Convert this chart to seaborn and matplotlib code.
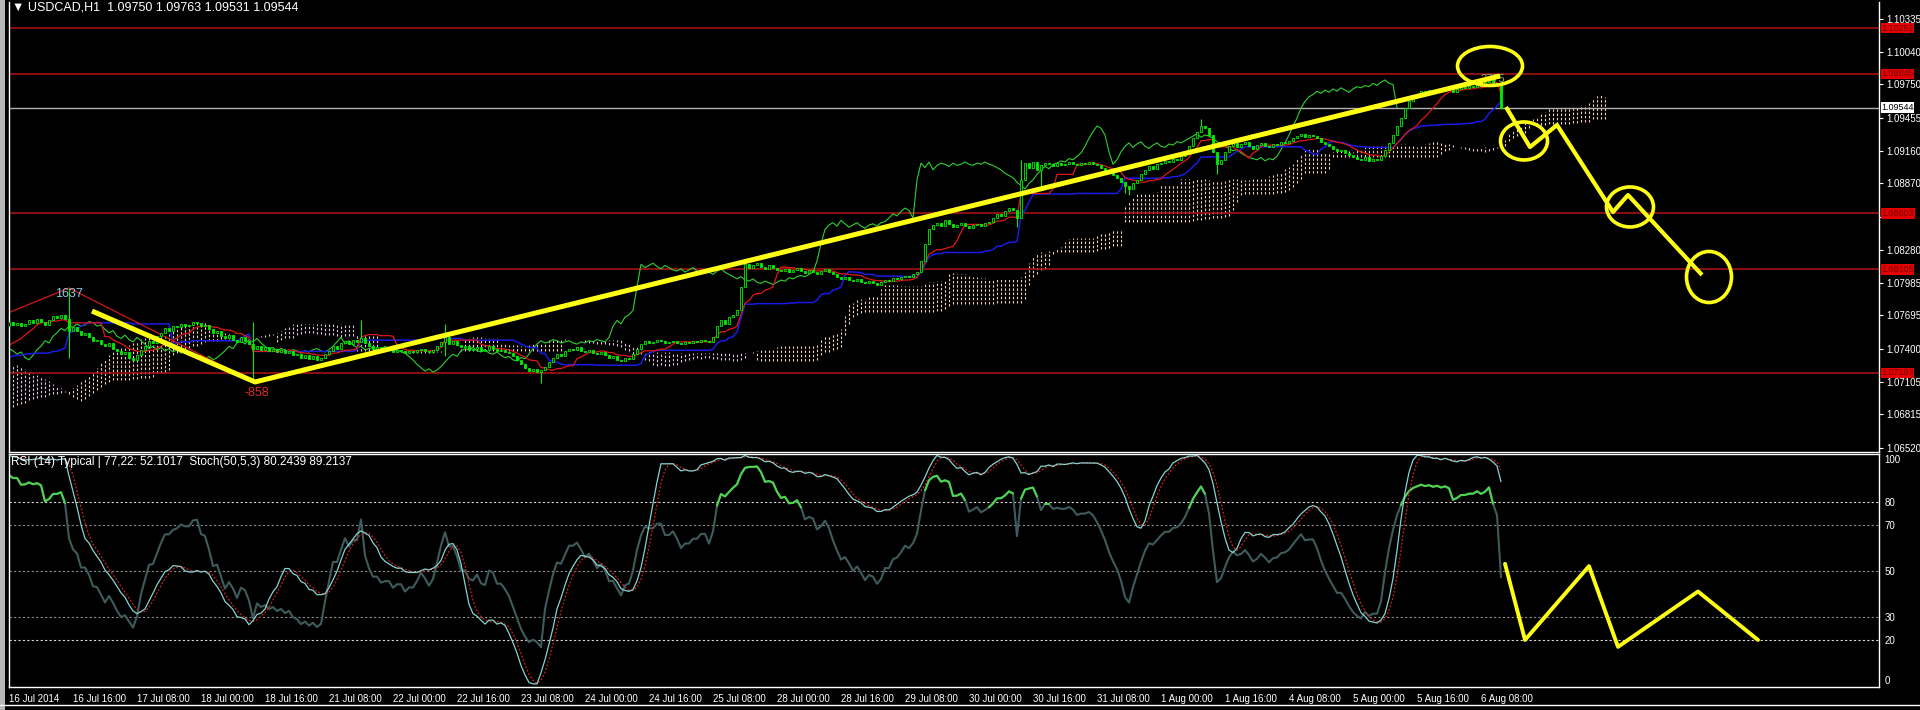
import numpy as np
import pandas as pd
import seaborn as sns
import matplotlib.pyplot as plt
from matplotlib.patches import Ellipse, Rectangle

# USDCAD H1, prices kept in points above 1.07000 (1 point = 0.00001)
BASE = 1.07
PT = 0.00001

# hourly closes before 16 Jul 2014 00:00, they only feed the indicators
history = [820, 860, 900, 870, 830, 790, 760, 720, 700, 650, 610, 560, 520,
           480, 430, 380, 330, 300, 250, 200, 160, 110, 60, 20, -30, -80, -120, -160, -200,
           -230, -260, -300, -280, -320, -350, -390, -360, -330, -300, -320, -280, -250, -210, -180,
           -150, -120, -90, -100, -60, -30, -10, 20, 0, 30, 60, 40, 80, 110, 90, 120, 140, 100,
           70, 90, 60, 80, 110, 130,
           170, 220, 260, 300, 340, 400, 450, 500, 560, 600]

# visible hourly closes, bar 0 = 16 Jul 00:00 ... bar 373 = 6 Aug 13:00
close_pts = [
    640, 610, 630, 600, 620, 650, 630, 660, 640, 610, 650, 690, 670, 700, 660, 560,
    590, 560, 520, 540, 500, 470, 480, 440, 420, 450, 400, 380, 350, 370, 320, 300,
    340, 390, 420, 470, 450, 510, 540, 580, 560, 600, 590, 620, 600, 610, 640, 630,
    600, 610, 570, 540, 560, 510, 490, 520, 480, 460, 500, 470, 440, 400, 420, 390,
    410, 380, 400, 370, 390, 360, 380, 340, 350, 320, 340, 310, 330, 300, 320, 350,
    380, 420, 400, 450, 470, 440, 480, 460, 490, 450, 420, 400, 410, 380, 400, 390,
    370, 390, 380, 360, 380, 370, 390, 400, 380, 370, 390, 420, 460, 500, 440, 470,
    430, 410, 420, 390, 400, 410, 380, 390, 420, 400, 380, 390, 370, 360, 330, 300,
    260, 230, 200, 220, 190, 210, 240, 280, 320, 350, 330, 380, 400, 390, 410, 380,
    370, 390, 360, 350, 370, 340, 320, 330, 300, 290, 320, 310, 350, 400, 440, 470,
    450, 460, 480, 470, 450, 460, 470, 450, 440, 460, 450, 470, 460, 480, 470, 460,
    500, 600, 650, 620, 680, 700, 740, 950, 1150, 1120, 1140, 1160, 1130, 1110, 1140, 1120,
    1100, 1090, 1110, 1080, 1100, 1120, 1090, 1070, 1100, 1080, 1060, 1090, 1110, 1080, 1060, 1040,
    1020, 1040, 1010, 1000, 1020, 990, 980, 1000, 985, 970, 990, 1010, 1000, 1030, 1020, 1040,
    1050, 1040, 1060, 1080, 1180, 1330, 1460, 1500, 1520, 1490, 1540, 1510, 1480, 1500, 1520, 1490,
    1470, 1500, 1510, 1490, 1520, 1530, 1560, 1600, 1580, 1620, 1650, 1630, 1560, 1900, 2050, 2010,
    2060, 1990, 2030, 2050, 2040, 2020, 2050, 2030, 2040, 2060, 2040, 2030, 2050, 2040, 2060, 2040,
    2030, 2010, 1990, 1960, 1940, 1920, 1880, 1850, 1820, 1870, 1900, 1950, 1990, 2020, 2000, 2040,
    2050, 2070, 2060, 2090, 2080, 2110, 2140, 2200, 2270, 2330, 2380, 2360, 2300, 2150, 2040, 2080,
    2150, 2200, 2230, 2190, 2220, 2240, 2200, 2180, 2210, 2230, 2200, 2190, 2220, 2210, 2240, 2230,
    2250, 2270, 2290, 2310, 2280, 2300, 2290, 2270, 2240, 2220, 2200, 2180, 2160, 2170, 2140, 2120,
    2100, 2090, 2080, 2100, 2070, 2090, 2080, 2110, 2170, 2230, 2300, 2380, 2450, 2540, 2600, 2640,
    2660, 2690, 2670, 2700, 2680, 2710, 2690, 2720, 2700, 2680, 2710, 2730, 2720, 2740, 2730, 2760,
    2740, 2770, 2790, 2760, 2750, 2544,
]

# long wicks (bar: points)
spike_high = {15: 939, 61: 640, 88: 650, 109: 620, 253: 2080, 298: 2440, 370: 2816, 373: 2763}
spike_low = {15: 320, 61: 110, 109: 330, 133: 94, 252: 1480, 258: 1840, 279: 1780,
             280: 1770, 302: 1950, 373: 2531}

date_labels = ["16 Jul 2014", "16 Jul 16:00", "17 Jul 08:00", "18 Jul 00:00", "18 Jul 16:00",
               "21 Jul 08:00", "22 Jul 00:00", "22 Jul 16:00", "23 Jul 08:00", "24 Jul 00:00",
               "24 Jul 16:00", "25 Jul 08:00", "28 Jul 00:00", "28 Jul 16:00", "29 Jul 08:00",
               "30 Jul 00:00", "30 Jul 16:00", "31 Jul 08:00", "1 Aug 00:00", "1 Aug 16:00",
               "4 Aug 08:00", "5 Aug 00:00", "5 Aug 16:00", "6 Aug 08:00"]
label_bars = [16 * i for i in range(len(date_labels))]

# 1.08575 sits under the 1.08603 line label, so it gets no text
price_ticks = [1.10335, 1.10040, 1.09750, 1.09455, 1.09160, 1.08870, 1.08575, 1.08280,
               1.07985, 1.07695, 1.07400, 1.07105, 1.06815, 1.06520]
red_levels = [1.10252, 1.09845, 1.08603, 1.08105, 1.07183]
bid = 1.09544

zigzag_bars = [-20, 15, 61, 370]
zigzag_pts = [430, 939, 110, 2816]

# hand drawn yellow marks
trend_bars = [20.75, 61.5, 372.75]
trend_price = [1.07734, 1.07103, 1.09825]
proj_bars = [374.25, 380.25, 387, 401, 404.75, 423.25]
proj_price = [1.09549, 1.09193, 1.09389, 1.08615, 1.08766, 1.08055]
circle_bars = [370.25, 378.75, 405.25, 425]
circle_price = [1.09914, 1.09247, 1.08660, 1.08037]
circle_w = [16.25, 11.75, 11.75, 11.25]
circle_h = [0.00347, 0.00338, 0.00356, 0.00454]
osc_bars = [374, 379, 395, 402.25, 422.25, 437.25]
osc_vals = [53, 20, 52, 17, 41, 20]

# ---- build OHLC + indicators
n_hist = len(history)
bars = np.arange(-n_hist, len(close_pts))
c = BASE + np.array(history + close_pts, float) * PT
o = np.r_[c[0], c[:-1]]
h = np.maximum(o, c)
l = np.minimum(o, c)
for b, v in spike_high.items():
    h[b + n_hist] = BASE + v * PT
for b, v in spike_low.items():
    l[b + n_hist] = BASE + v * PT
df = pd.DataFrame({"bar": bars, "open": o, "high": h, "low": l, "close": c})

df["tenkan"] = (df.high.rolling(9, 1).max() + df.low.rolling(9, 1).min()) / 2
df["kijun"] = (df.high.rolling(26, 1).max() + df.low.rolling(26, 1).min()) / 2
cloud = pd.DataFrame({"bar": bars + 26,
                      "a": (df.tenkan + df.kijun) / 2,
                      "b": (df.high.rolling(52, 1).max() + df.low.rolling(52, 1).min()) / 2})
cloud = cloud[cloud.bar >= 0]
chikou = pd.DataFrame({"bar": bars - 26, "price": c})
chikou = chikou[chikou.bar >= 0]

tp = (df.high + df.low + df.close) / 3
d = tp.diff()
up = d.clip(lower=0).ewm(alpha=1 / 14, adjust=False).mean()
dn = (-d).clip(lower=0).ewm(alpha=1 / 14, adjust=False).mean()
df["rsi"] = 100 - 100 / (1 + up / dn)
ll = df.low.rolling(50, 1).min()
hh = df.high.rolling(50, 1).max()
df["stoch"] = 100 * (df.close - ll).rolling(5, 1).sum() / (hh - ll).rolling(5, 1).sum()
df["signal"] = df.stoch.rolling(3, 1).mean()

vis = df[df.bar >= 0]

# ---- figure
sns.set_theme(style="dark", rc={"axes.facecolor": "black", "figure.facecolor": "black",
                                "axes.edgecolor": "white", "grid.color": "black"})
plt.rcParams["font.family"] = ["Liberation Sans", "DejaVu Sans"]

W, H = 1920, 710
fig = plt.figure(figsize=(19.2, 7.1), dpi=100)
L, R = 9 / W, 1879 / W
ax = fig.add_axes([L, 1 - 452 / H, R - L, 450 / H])
ax2 = fig.add_axes([L, 1 - 687 / H, R - L, 233 / H])

for a in (ax, ax2):
    a.set_facecolor("black")
    a.set_xlim(0, 467.5)
    a.grid(False)
    for s in a.spines.values():
        s.set_color("white")
        s.set_linewidth(1)
ax.spines["top"].set_visible(False)
ax.set_ylim(1.064801, 1.104833)
ax2.set_ylim(-0.4, 100.6)

# cloud: dotted vertical hatching between the two spans
up_mask = cloud.a >= cloud.b
cols = np.where(up_mask, "#F2CDB8", "#DCC4DC")
ax.vlines(cloud.bar, np.minimum(cloud.a, cloud.b), np.maximum(cloud.a, cloud.b),
          colors=cols, linestyles=(0, (2.2, 1.6)), linewidth=0.8, zorder=1)

# horizontal levels
for p in red_levels:
    ax.axhline(p, color="#B41414", lw=1.1, zorder=1.5)
ax.axhline(bid, color="#B0B0B0", lw=1, zorder=1.5)

# ichimoku lines
sns.lineplot(data=chikou, x="bar", y="price", ax=ax, color="#2FD02F", lw=0.8, zorder=2)
sns.lineplot(data=vis, x="bar", y="kijun", ax=ax, color="#1A1AE6", lw=1.1, zorder=2)
sns.lineplot(data=vis, x="bar", y="tenkan", ax=ax, color="#E01818", lw=0.9, zorder=2)

# candles
ax.vlines(vis.bar, vis.low, vis.high, color="#00EE00", lw=0.8, zorder=3)
body_lo = np.minimum(vis.open, vis.close)
body_h = np.maximum(np.abs(vis.close - vis.open), 0.00005)
bull = vis.close >= vis.open
ax.bar(vis.bar, body_h, bottom=body_lo, width=0.72,
       color=np.where(bull, "black", "#00EE00"), edgecolor="#00EE00", linewidth=0.6, zorder=3)

# zigzag
ax.plot(zigzag_bars, BASE + np.array(zigzag_pts) * PT, color="#D01818", lw=0.9, zorder=2.5)
ax.text(15, 1.07885, "1637", color="#8CC8E8", fontsize=9, ha="center", va="center", zorder=4)
ax.text(62, 1.07002, "-858", color="#E02828", fontsize=9, ha="center", va="center", zorder=4)
ax.text(371, 1.09796, "2775", color="#80B880", fontsize=8, ha="center", va="center", zorder=4)

# yellow annotations
ax.plot(trend_bars, trend_price, color="#FFFF14", lw=3.6, solid_capstyle="butt", zorder=6)
ax.plot(proj_bars, proj_price, color="#FFFF14", lw=3.0, solid_capstyle="butt", zorder=6)
for cx, cy, w, hh_ in zip(circle_bars, circle_price, circle_w, circle_h):
    ax.add_patch(Ellipse((cx, cy), w, hh_, fill=False, ec="#FFFF14", lw=2.6, zorder=6))

# price axis
ax.yaxis.tick_right()
ax.set_yticks(price_ticks)
ax.set_yticklabels(["" if p == 1.08575 else f"{p:.5f}" for p in price_ticks])
ax.tick_params(axis="y", colors="white", labelsize=7, length=3, width=0.8, pad=2)
ax.tick_params(axis="x", length=0, labelbottom=False)
ax.set_xlabel("")
ax.set_ylabel("")
ytr = ax.get_yaxis_transform()
for p in red_levels:
    ax.text(1.0012, p, f"{p:.5f}", transform=ytr, ha="left", va="center", fontsize=6.5,
            color="#780000", zorder=7,
            bbox=dict(boxstyle="square,pad=0.08", fc="#E40000", ec="none"))
ax.text(1.0012, bid, f"{bid:.5f}", transform=ytr, ha="left", va="center", fontsize=6.5,
        color="black", zorder=7, bbox=dict(boxstyle="square,pad=0.08", fc="white", ec="none"))

# oscillator panel
for lv, col in [(80, "#D8D8D8"), (70, "#8C8C8C"), (50, "#8C8C8C"), (30, "#8C8C8C"), (20, "#D8D8D8")]:
    ax2.axhline(lv, color=col, lw=0.8, ls=(0, (2, 2)), zorder=1)
sns.lineplot(data=vis, x="bar", y="rsi", ax=ax2, color="#3E5C5C", lw=1.5, zorder=2)
ax2.plot(vis.bar, vis.rsi.where(vis.rsi > 77), color="#4CD44C", lw=1.5, zorder=2.2)
sns.lineplot(data=vis, x="bar", y="signal", ax=ax2, color="#D42020", lw=0.9,
             ls=(0, (1.5, 1.5)), zorder=2.4)
sns.lineplot(data=vis, x="bar", y="stoch", ax=ax2, color="#86D2D2", lw=0.9, zorder=2.6)
ax2.plot(osc_bars, osc_vals, color="#FFFF14", lw=2.8, zorder=6)

ax2.yaxis.tick_right()
ax2.set_yticks([0, 20, 30, 50, 70, 80, 100])
ax2.set_yticklabels(["0", "20", "30", "50", "70", "80", "100"])
ax2.tick_params(axis="y", colors="white", labelsize=7, length=0, pad=4)
tl = ax2.get_yticklabels()
tl[0].set_va("bottom")
tl[-1].set_va("top")
ax2.set_xticks(label_bars)
ax2.set_xticklabels(date_labels, ha="left")
ax2.tick_params(axis="x", colors="white", labelsize=7, length=3, width=0.8, pad=2)
ax2.set_xlabel("")
ax2.set_ylabel("")

# window chrome
fig.text(12 / W, 1 - 7 / H, "\u25bc USDCAD,H1  1.09750 1.09763 1.09531 1.09544",
         color="white", fontsize=9, ha="left", va="center",
         fontfamily=["Liberation Sans", "DejaVu Sans"])
fig.text(11 / W, 1 - 462 / H, "RSI (14) Typical | 77,22: 52.1017  Stoch(50,5,3) 80.2439 89.2137",
         color="white", fontsize=8.5, ha="left", va="center")
fig.patches.append(Rectangle((0, 0), 5 / W, 1, transform=fig.transFigure,
                             fc="#B8B8B8", ec="none", zorder=0))
fig.lines.append(plt.Line2D([0, 1], [1 - 705 / H, 1 - 705 / H], transform=fig.transFigure,
                            color="white", lw=1))

fig.savefig("out.png", dpi=100, facecolor="black")
